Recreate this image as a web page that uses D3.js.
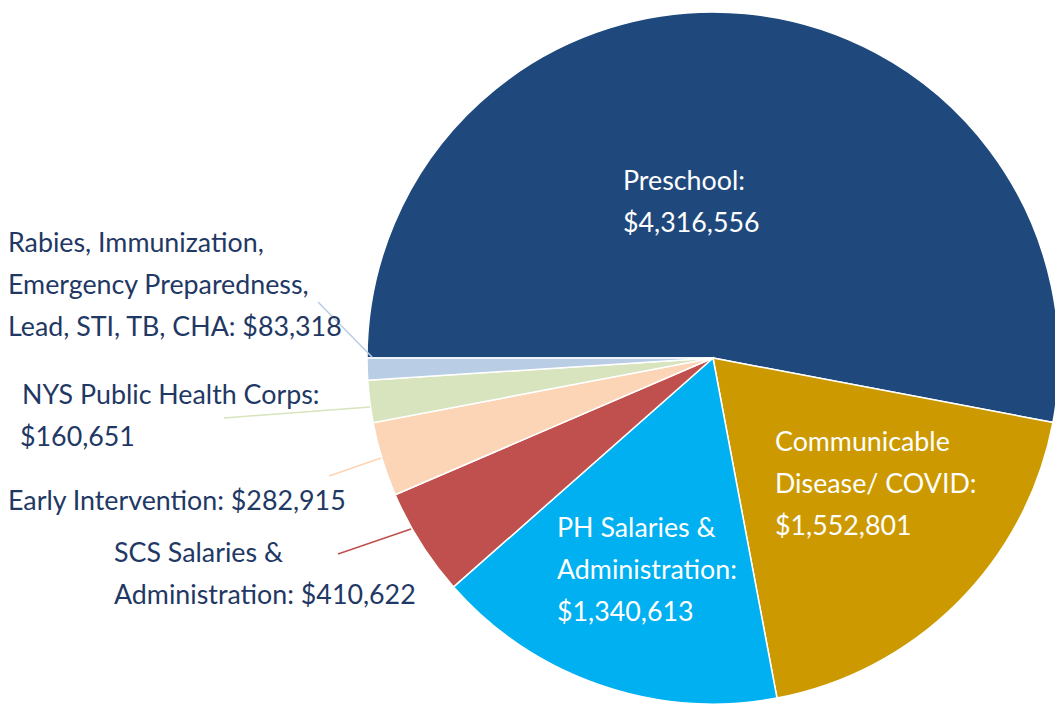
<!DOCTYPE html>
<html><head><meta charset="utf-8">
<script src="https://cdn.jsdelivr.net/npm/d3@7"></script>
<style>html,body{margin:0;padding:0;background:#fff;}svg{display:block;}</style>
</head><body><svg id="c" width="1055" height="706"></svg>
<script>
const categories = ["Preschool", "Communicable Disease/ COVID", "PH Salaries & Administration", "SCS Salaries & Administration", "Early Intervention", "NYS Public Health Corps", "Rabies, Immunization, Emergency Preparedness, Lead, STI, TB, CHA"];
const values = [4316556, 1552801, 1340613, 410622, 282915, 160651, 83318];
const colors = ["#1f497d", "#cc9900", "#00b0f0", "#c0504d", "#fbd5b5", "#d7e4bd", "#b9cde5"];
const labelLines = [
  ["Preschool:", "$4,316,556"],
  ["Communicable", "Disease/ COVID:", "$1,552,801"],
  ["PH Salaries &", "Administration:", "$1,340,613"],
  ["SCS Salaries &", "Administration: $410,622"],
  ["Early Intervention: $282,915"],
  ["NYS Public Health Corps:", "$160,651"],
  ["Rabies, Immunization,", "Emergency Preparedness,", "Lead, STI, TB, CHA: $83,318"]
];

// layout (not data)
const cx = 713, cy = 358, R = 346;
const fontSize = 26.8, lineH = 42;
const labelLayout = [
  {x: 623, y: 190, inside: true},
  {x: 775, y: 451, inside: true},
  {x: 557, y: 537, inside: true},
  {x: 114, y: 562, line: [[338,554],[411,529]]},
  {x: 8, y: 510, line: [[329,476],[381,458]]},
  {x: 22, y: 404, xs: [22, 20], line: [[224,418],[370,407]]},
  {x: 8, y: 252, line: [[318,302],[372,357]]}
];

const svg = d3.select("#c");
const g = svg.append("g").attr("transform", `translate(${cx},${cy})`);
const pie = d3.pie().sort(null).startAngle(-Math.PI/2).endAngle(3*Math.PI/2);
const arc = d3.arc().innerRadius(0).outerRadius(R);
const arcs = pie(values);
g.selectAll("path").data(arcs).join("path")
  .attr("d", arc)
  .attr("fill", (d,i) => colors[i])
  .attr("stroke", "#fff").attr("stroke-width", 1.5);

// leader lines
labelLayout.forEach((L, i) => {
  if (L.line) {
    svg.append("line")
      .attr("x1", L.line[0][0]).attr("y1", L.line[0][1])
      .attr("x2", L.line[1][0]).attr("y2", L.line[1][1])
      .attr("stroke", colors[i]).attr("stroke-width", 1.5);
  }
});

labelLayout.forEach((L, i) => {
  const t = svg.append("text")
    .attr("font-family", "Lato, 'Open Sans', sans-serif")
    .attr("font-size", fontSize)
    .attr("fill", L.inside ? "#ffffff" : "#1f3864");
  labelLines[i].forEach((s, j) => {
    t.append("tspan").attr("x", L.xs ? L.xs[j] : L.x).attr("y", L.y + j*lineH).text(s);
  });
});
</script></body></html>
